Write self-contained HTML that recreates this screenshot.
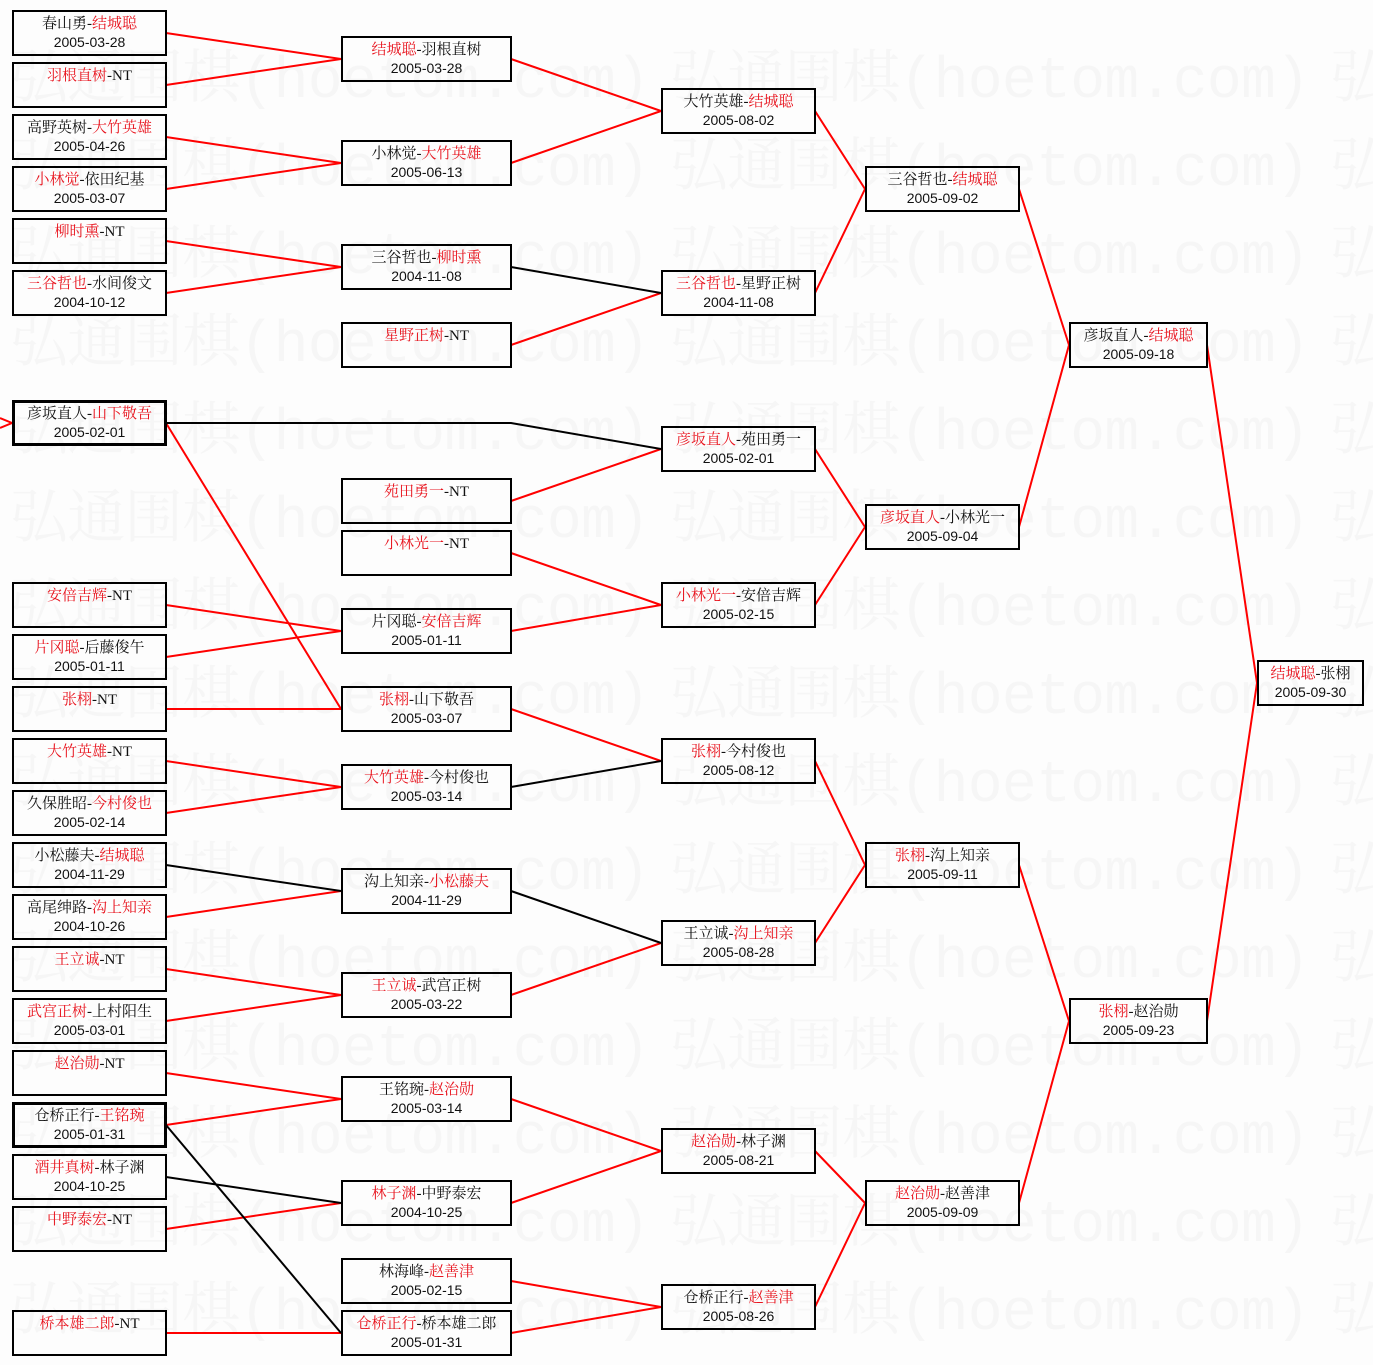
<!DOCTYPE html>
<html><head><meta charset="utf-8"><style>
html,body{margin:0;padding:0;background:#fdfdfd;}
#c{position:relative;width:1373px;height:1365px;overflow:hidden;font-family:"Liberation Serif","Noto Serif CJK SC","Noto Sans CJK SC",serif;}
svg{position:absolute;left:0;top:0;}
.b{position:absolute;box-sizing:border-box;height:46px;border:2px solid #000;text-align:center;font-size:15px;line-height:18px;color:#111;padding-top:3px;white-space:nowrap;}
.b.k{border-width:3px;padding-top:2px;}
.d{font-family:"Liberation Sans",sans-serif;font-size:14px;}
.r{color:#e8141e;}
</style></head><body><div id="c">
<svg width="1373" height="1365" style="z-index:0">
<g fill="#f6f6f6" font-family="Liberation Mono,Noto Serif CJK SC,monospace" font-size="58">
<text x="10" y="97" textLength="640">弘通围棋(hoetom.com)</text><text x="670" y="97" textLength="640">弘通围棋(hoetom.com)</text><text x="1330" y="97">弘</text>
<text x="10" y="185" textLength="640">弘通围棋(hoetom.com)</text><text x="670" y="185" textLength="640">弘通围棋(hoetom.com)</text><text x="1330" y="185">弘</text>
<text x="10" y="273" textLength="640">弘通围棋(hoetom.com)</text><text x="670" y="273" textLength="640">弘通围棋(hoetom.com)</text><text x="1330" y="273">弘</text>
<text x="10" y="361" textLength="640">弘通围棋(hoetom.com)</text><text x="670" y="361" textLength="640">弘通围棋(hoetom.com)</text><text x="1330" y="361">弘</text>
<text x="10" y="449" textLength="640">弘通围棋(hoetom.com)</text><text x="670" y="449" textLength="640">弘通围棋(hoetom.com)</text><text x="1330" y="449">弘</text>
<text x="10" y="537" textLength="640">弘通围棋(hoetom.com)</text><text x="670" y="537" textLength="640">弘通围棋(hoetom.com)</text><text x="1330" y="537">弘</text>
<text x="10" y="625" textLength="640">弘通围棋(hoetom.com)</text><text x="670" y="625" textLength="640">弘通围棋(hoetom.com)</text><text x="1330" y="625">弘</text>
<text x="10" y="713" textLength="640">弘通围棋(hoetom.com)</text><text x="670" y="713" textLength="640">弘通围棋(hoetom.com)</text><text x="1330" y="713">弘</text>
<text x="10" y="801" textLength="640">弘通围棋(hoetom.com)</text><text x="670" y="801" textLength="640">弘通围棋(hoetom.com)</text><text x="1330" y="801">弘</text>
<text x="10" y="889" textLength="640">弘通围棋(hoetom.com)</text><text x="670" y="889" textLength="640">弘通围棋(hoetom.com)</text><text x="1330" y="889">弘</text>
<text x="10" y="977" textLength="640">弘通围棋(hoetom.com)</text><text x="670" y="977" textLength="640">弘通围棋(hoetom.com)</text><text x="1330" y="977">弘</text>
<text x="10" y="1065" textLength="640">弘通围棋(hoetom.com)</text><text x="670" y="1065" textLength="640">弘通围棋(hoetom.com)</text><text x="1330" y="1065">弘</text>
<text x="10" y="1153" textLength="640">弘通围棋(hoetom.com)</text><text x="670" y="1153" textLength="640">弘通围棋(hoetom.com)</text><text x="1330" y="1153">弘</text>
<text x="10" y="1241" textLength="640">弘通围棋(hoetom.com)</text><text x="670" y="1241" textLength="640">弘通围棋(hoetom.com)</text><text x="1330" y="1241">弘</text>
<text x="10" y="1329" textLength="640">弘通围棋(hoetom.com)</text><text x="670" y="1329" textLength="640">弘通围棋(hoetom.com)</text><text x="1330" y="1329">弘</text>
</g>
<g stroke="#f00" stroke-width="2" fill="none">
<path d="M0 418L12 423L0 428"/>
<path d="M166 33L341 59M166 85L341 59"/>
<path d="M166 137L341 163M166 189L341 163"/>
<path d="M166 241L341 267M166 293L341 267"/>
<path d="M166 423L341 709"/>
<path d="M166 605L341 631M166 657L341 631"/>
<path d="M166 709L341 709"/>
<path d="M166 761L341 787M166 813L341 787"/>
<path d="M166 917L341 891"/>
<path d="M166 969L341 995M166 1021L341 995"/>
<path d="M166 1073L341 1099M166 1125L341 1099"/>
<path d="M166 1229L341 1203"/>
<path d="M166 1333L341 1333"/>
<path d="M511 59L661 111M511 163L661 111"/>
<path d="M511 345L661 293"/>
<path d="M511 501L661 449"/>
<path d="M511 553L661 605M511 631L661 605"/>
<path d="M511 709L661 761"/>
<path d="M511 995L661 943"/>
<path d="M511 1099L661 1151M511 1203L661 1151"/>
<path d="M511 1281L661 1307M511 1333L661 1307"/>
<path d="M815 111L865 189M815 293L865 189"/>
<path d="M815 449L865 527M815 605L865 527"/>
<path d="M815 761L865 865M815 943L865 865"/>
<path d="M815 1151L865 1203M815 1307L865 1203"/>
<path d="M1019 189L1069 345M1019 527L1069 345"/>
<path d="M1019 865L1069 1021M1019 1203L1069 1021"/>
<path d="M1207 345L1257 683M1207 1021L1257 683"/>
</g>
<g stroke="#000" stroke-width="2" fill="none">
<path d="M166 423L511 423L661 449"/>
<path d="M166 865L341 891"/>
<path d="M166 1125L341 1333"/>
<path d="M166 1177L341 1203"/>
<path d="M511 267L661 293"/>
<path d="M511 787L661 761"/>
<path d="M511 891L661 943"/>
</g>
</svg>

<div class="b" style="left:12px;top:10px;width:155px">春山勇-<span class="r">结城聪</span><br><span class="d">2005-03-28</span></div>
<div class="b" style="left:12px;top:62px;width:155px"><span class="r">羽根直树</span>-NT</div>
<div class="b" style="left:12px;top:114px;width:155px">高野英树-<span class="r">大竹英雄</span><br><span class="d">2005-04-26</span></div>
<div class="b" style="left:12px;top:166px;width:155px"><span class="r">小林觉</span>-依田纪基<br><span class="d">2005-03-07</span></div>
<div class="b" style="left:12px;top:218px;width:155px"><span class="r">柳时熏</span>-NT</div>
<div class="b" style="left:12px;top:270px;width:155px"><span class="r">三谷哲也</span>-水间俊文<br><span class="d">2004-10-12</span></div>
<div class="b k" style="left:12px;top:400px;width:155px">彦坂直人-<span class="r">山下敬吾</span><br><span class="d">2005-02-01</span></div>
<div class="b" style="left:12px;top:582px;width:155px"><span class="r">安倍吉辉</span>-NT</div>
<div class="b" style="left:12px;top:634px;width:155px"><span class="r">片冈聪</span>-后藤俊午<br><span class="d">2005-01-11</span></div>
<div class="b" style="left:12px;top:686px;width:155px"><span class="r">张栩</span>-NT</div>
<div class="b" style="left:12px;top:738px;width:155px"><span class="r">大竹英雄</span>-NT</div>
<div class="b" style="left:12px;top:790px;width:155px">久保胜昭-<span class="r">今村俊也</span><br><span class="d">2005-02-14</span></div>
<div class="b" style="left:12px;top:842px;width:155px">小松藤夫-<span class="r">结城聪</span><br><span class="d">2004-11-29</span></div>
<div class="b" style="left:12px;top:894px;width:155px">高尾绅路-<span class="r">沟上知亲</span><br><span class="d">2004-10-26</span></div>
<div class="b" style="left:12px;top:946px;width:155px"><span class="r">王立诚</span>-NT</div>
<div class="b" style="left:12px;top:998px;width:155px"><span class="r">武宫正树</span>-上村阳生<br><span class="d">2005-03-01</span></div>
<div class="b" style="left:12px;top:1050px;width:155px"><span class="r">赵治勋</span>-NT</div>
<div class="b k" style="left:12px;top:1102px;width:155px">仓桥正行-<span class="r">王铭琬</span><br><span class="d">2005-01-31</span></div>
<div class="b" style="left:12px;top:1154px;width:155px"><span class="r">酒井真树</span>-林子渊<br><span class="d">2004-10-25</span></div>
<div class="b" style="left:12px;top:1206px;width:155px"><span class="r">中野泰宏</span>-NT</div>
<div class="b" style="left:12px;top:1310px;width:155px"><span class="r">桥本雄二郎</span>-NT</div>

<div class="b" style="left:341px;top:36px;width:171px"><span class="r">结城聪</span>-羽根直树<br><span class="d">2005-03-28</span></div>
<div class="b" style="left:341px;top:140px;width:171px">小林觉-<span class="r">大竹英雄</span><br><span class="d">2005-06-13</span></div>
<div class="b" style="left:341px;top:244px;width:171px">三谷哲也-<span class="r">柳时熏</span><br><span class="d">2004-11-08</span></div>
<div class="b" style="left:341px;top:322px;width:171px"><span class="r">星野正树</span>-NT</div>
<div class="b" style="left:341px;top:478px;width:171px"><span class="r">苑田勇一</span>-NT</div>
<div class="b" style="left:341px;top:530px;width:171px"><span class="r">小林光一</span>-NT</div>
<div class="b" style="left:341px;top:608px;width:171px">片冈聪-<span class="r">安倍吉辉</span><br><span class="d">2005-01-11</span></div>
<div class="b" style="left:341px;top:686px;width:171px"><span class="r">张栩</span>-山下敬吾<br><span class="d">2005-03-07</span></div>
<div class="b" style="left:341px;top:764px;width:171px"><span class="r">大竹英雄</span>-今村俊也<br><span class="d">2005-03-14</span></div>
<div class="b" style="left:341px;top:868px;width:171px">沟上知亲-<span class="r">小松藤夫</span><br><span class="d">2004-11-29</span></div>
<div class="b" style="left:341px;top:972px;width:171px"><span class="r">王立诚</span>-武宫正树<br><span class="d">2005-03-22</span></div>
<div class="b" style="left:341px;top:1076px;width:171px">王铭琬-<span class="r">赵治勋</span><br><span class="d">2005-03-14</span></div>
<div class="b" style="left:341px;top:1180px;width:171px"><span class="r">林子渊</span>-中野泰宏<br><span class="d">2004-10-25</span></div>
<div class="b" style="left:341px;top:1258px;width:171px">林海峰-<span class="r">赵善津</span><br><span class="d">2005-02-15</span></div>
<div class="b" style="left:341px;top:1310px;width:171px"><span class="r">仓桥正行</span>-桥本雄二郎<br><span class="d">2005-01-31</span></div>

<div class="b" style="left:661px;top:88px;width:155px">大竹英雄-<span class="r">结城聪</span><br><span class="d">2005-08-02</span></div>
<div class="b" style="left:661px;top:270px;width:155px"><span class="r">三谷哲也</span>-星野正树<br><span class="d">2004-11-08</span></div>
<div class="b" style="left:661px;top:426px;width:155px"><span class="r">彦坂直人</span>-苑田勇一<br><span class="d">2005-02-01</span></div>
<div class="b" style="left:661px;top:582px;width:155px"><span class="r">小林光一</span>-安倍吉辉<br><span class="d">2005-02-15</span></div>
<div class="b" style="left:661px;top:738px;width:155px"><span class="r">张栩</span>-今村俊也<br><span class="d">2005-08-12</span></div>
<div class="b" style="left:661px;top:920px;width:155px">王立诚-<span class="r">沟上知亲</span><br><span class="d">2005-08-28</span></div>
<div class="b" style="left:661px;top:1128px;width:155px"><span class="r">赵治勋</span>-林子渊<br><span class="d">2005-08-21</span></div>
<div class="b" style="left:661px;top:1284px;width:155px">仓桥正行-<span class="r">赵善津</span><br><span class="d">2005-08-26</span></div>

<div class="b" style="left:865px;top:166px;width:155px">三谷哲也-<span class="r">结城聪</span><br><span class="d">2005-09-02</span></div>
<div class="b" style="left:865px;top:504px;width:155px"><span class="r">彦坂直人</span>-小林光一<br><span class="d">2005-09-04</span></div>
<div class="b" style="left:865px;top:842px;width:155px"><span class="r">张栩</span>-沟上知亲<br><span class="d">2005-09-11</span></div>
<div class="b" style="left:865px;top:1180px;width:155px"><span class="r">赵治勋</span>-赵善津<br><span class="d">2005-09-09</span></div>

<div class="b" style="left:1069px;top:322px;width:139px">彦坂直人-<span class="r">结城聪</span><br><span class="d">2005-09-18</span></div>
<div class="b" style="left:1069px;top:998px;width:139px"><span class="r">张栩</span>-赵治勋<br><span class="d">2005-09-23</span></div>

<div class="b" style="left:1257px;top:660px;width:107px"><span class="r">结城聪</span>-张栩<br><span class="d">2005-09-30</span></div>
</div></body></html>
